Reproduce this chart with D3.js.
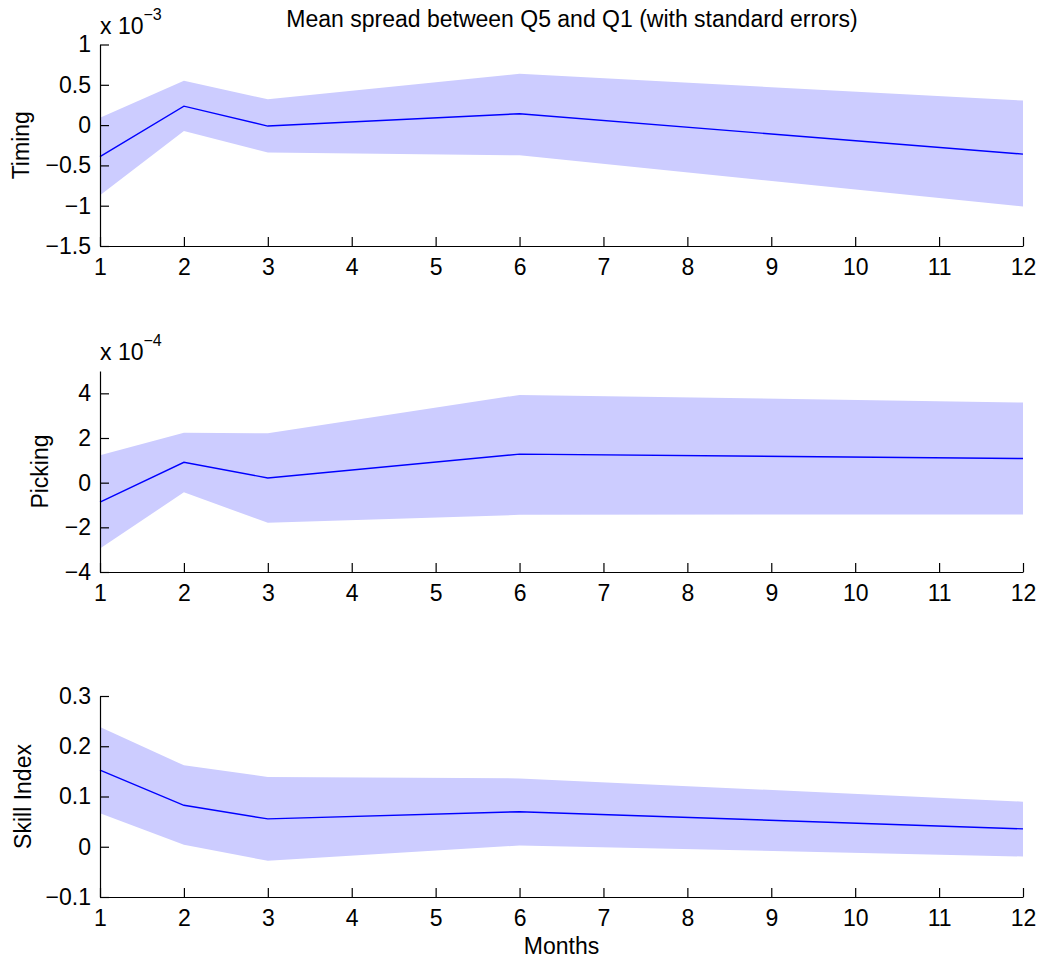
<!DOCTYPE html>
<html>
<head>
<meta charset="utf-8">
<script src="https://cdn.jsdelivr.net/npm/d3@7"></script>
<style>
  html, body { margin: 0; padding: 0; background: #fff; }
  svg text { font-family: "Liberation Sans", Arial, Helvetica, sans-serif; fill: #000; }
</style>
</head>
<body>
<svg id="chart" width="1041" height="959"></svg>
<script>
// ---- data ----
const months = [1, 2, 3, 6, 12];
const xTicks = [1, 2, 3, 4, 5, 6, 7, 8, 9, 10, 11, 12];

const timingMean  = [-0.39e-3, 0.235e-3, -0.012e-3, 0.141e-3, -0.36e-3];
const timingUpper = [0.09e-3, 0.55e-3, 0.32e-3, 0.636e-3, 0.305e-3];
const timingLower = [-0.87e-3, -0.074e-3, -0.34e-3, -0.375e-3, -1.01e-3];
const timingTicks = [-1.5, -1, -0.5, 0, 0.5, 1];

const pickingMean  = [-0.87e-4, 0.91e-4, 0.21e-4, 1.28e-4, 1.08e-4];
const pickingUpper = [1.23e-4, 2.24e-4, 2.21e-4, 3.93e-4, 3.59e-4];
const pickingLower = [-2.95e-4, -0.43e-4, -1.80e-4, -1.44e-4, -1.42e-4];
const pickingTicks = [-4, -2, 0, 2, 4];

const skillMean  = [0.1526, 0.0825, 0.0554, 0.0698, 0.0355];
const skillUpper = [0.2385, 0.162, 0.139, 0.136, 0.0897];
const skillLower = [0.0667, 0.004, -0.028, 0.0024, -0.0194];
const skillTicks = [-0.1, 0, 0.1, 0.2, 0.3];

const titleText = "Mean spread between Q5 and Q1 (with standard errors)";
const xLabelText = "Months";

// ---- layout ----
const svg = d3.select("#chart");
const FONT = 23;
const left = 100, right = 1023;

const panels = [
  { label: "Timing", mean: timingMean, upper: timingUpper, lower: timingLower,
    ticks: timingTicks, domain: [-1.5, 1], exp: -3, top: 44.5, bottom: 246, labelX: 29 },
  { label: "Picking", mean: pickingMean, upper: pickingUpper, lower: pickingLower,
    ticks: pickingTicks, domain: [-4, 5], exp: -4, top: 371, bottom: 572, labelX: 48 },
  { label: "Skill Index", mean: skillMean, upper: skillUpper, lower: skillLower,
    ticks: skillTicks, domain: [-0.1, 0.3], exp: 0, top: 696, bottom: 897, labelX: 31 }
];

const x = d3.scaleLinear().domain([1, 12]).range([left, right]);
const fmt = v => {
  const s = d3.format("~g")(+v.toFixed(6));
  return s.replace("-", "\u2212");
};

panels.forEach(p => {
  const factor = Math.pow(10, p.exp);
  const y = d3.scaleLinear().domain(p.domain.map(d => d * factor)).range([p.bottom, p.top]);
  const g = svg.append("g");

  const data = months.map((m, i) => ({ m, mean: p.mean[i], up: p.upper[i], lo: p.lower[i] }));

  g.append("path")
    .datum(data)
    .attr("fill", "#ccccff")
    .attr("stroke", "none")
    .attr("d", d3.area().x(d => x(d.m)).y0(d => y(d.lo)).y1(d => y(d.up)));

  g.append("path")
    .datum(data)
    .attr("fill", "none")
    .attr("stroke", "#0000ff")
    .attr("stroke-width", 1.4)
    .attr("d", d3.line().x(d => x(d.m)).y(d => y(d.mean)));

  // x axis
  const xa = g.append("g")
    .attr("transform", `translate(0,${p.bottom})`)
    .call(d3.axisBottom(x).tickValues(xTicks).tickFormat(d3.format("d"))
      .tickSizeInner(-9).tickSizeOuter(0).tickPadding(13));
  // y axis
  const ya = g.append("g")
    .attr("transform", `translate(${left},0)`)
    .call(d3.axisLeft(y).tickValues(p.ticks.map(t => t * factor))
      .tickFormat(v => fmt(v / factor))
      .tickSizeInner(-9).tickSizeOuter(0).tickPadding(9));

  [xa, ya].forEach(a => {
    a.selectAll("path.domain").attr("stroke", "#000").attr("stroke-width", 1.2);
    a.selectAll(".tick line").attr("stroke", "#000").attr("stroke-width", 1.2);
    a.selectAll(".tick text").attr("font-size", FONT)
      .attr("font-family", '"Liberation Sans", Arial, sans-serif').attr("fill", "#000");
  });

  // y label
  svg.append("text")
    .attr("transform", `translate(${p.labelX},${(p.top + p.bottom) / 2}) rotate(-90)`)
    .attr("text-anchor", "middle")
    .attr("font-size", FONT)
    .text(p.label);

  // exponent
  if (p.exp !== 0) {
    const t = svg.append("text")
      .attr("x", left)
      .attr("y", p.top - 11)
      .attr("font-size", FONT);
    t.append("tspan").text("x 10");
    t.append("tspan").attr("font-size", 16).attr("dy", -14).text("\u2212" + Math.abs(p.exp));
  }
});

// title
svg.append("text")
  .attr("x", 572)
  .attr("y", 27)
  .attr("text-anchor", "middle")
  .attr("font-size", FONT)
  .text(titleText);

// x label
svg.append("text")
  .attr("x", (left + right) / 2)
  .attr("y", 954)
  .attr("text-anchor", "middle")
  .attr("font-size", FONT)
  .text(xLabelText);
</script>
</body>
</html>
